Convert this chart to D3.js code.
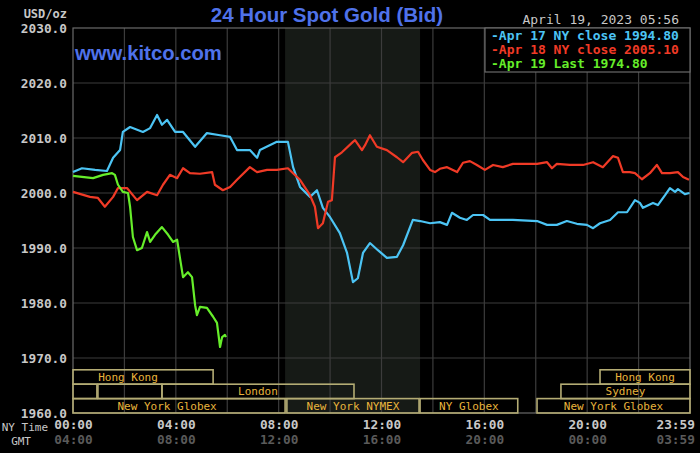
<!DOCTYPE html>
<html>
<head>
<meta charset="utf-8">
<script src="https://cdn.jsdelivr.net/npm/d3@7"></script>
<style>
  body { margin: 0; background: #000; }
  text { font-family: "DejaVu Sans Mono", monospace; }
</style>
</head>
<body>
<svg id="chart" width="700" height="453"></svg>
<script>
// hours since NY midnight, price
const apr17 = [[0,2003.8],[0.35,2004.5],[0.86,2004.2],[1.32,2004.0],[1.56,2006.4],[1.83,2007.8],[1.94,2011.1],
  [2.22,2012.0],[2.72,2011.1],[3.0,2011.8],[3.27,2014.2],[3.46,2012.4],[3.66,2013.3],[3.97,2011.1],[4.28,2011.1],
  [4.75,2008.4],[5.21,2010.9],[5.72,2010.5],[6.11,2010.2],[6.38,2007.8],[6.88,2007.8],[7.16,2006.4],[7.27,2007.8],
  [7.93,2009.3],[8.36,2009.3],[8.56,2004.7],[8.83,2001.1],[9.22,1999.3],[9.49,2000.5],[9.72,1997.3],[10.0,1995.6],
  [10.38,1992.7],[10.66,1989.1],[10.89,1983.8],[11.08,1984.5],[11.28,1989.1],[11.55,1990.9],[11.86,1989.6],
  [12.21,1988.2],[12.6,1988.4],[12.84,1990.5],[13.22,1995.1],[13.5,1994.9],[13.89,1994.5],[14.27,1994.7],
  [14.55,1994.2],[14.74,1996.4],[15.05,1995.5],[15.32,1995.1],[15.56,1996.0],[15.95,1996.0],[16.22,1995.1],
  [16.61,1995.1],[17.11,1995.1],[18.05,1994.9],[18.44,1994.2],[18.82,1994.2],[19.21,1994.9],[19.6,1994.4],
  [19.99,1994.2],[20.23,1993.6],[20.5,1994.5],[20.89,1995.1],[21.2,1996.5],[21.55,1996.5],[21.86,1998.7],
  [22.05,1998.2],[22.17,1997.3],[22.56,1998.2],[22.75,1997.8],[23.03,1999.6],[23.22,2000.9],[23.42,2000.2],
  [23.53,2000.7],[23.8,1999.8],[23.98,2000.0]];

const apr18 = [[0,2000.2],[0.66,1999.3],[0.97,1999.1],[1.24,1997.5],[1.56,1999.3],[1.75,2000.9],[2.1,2000.9],
  [2.49,1998.7],[2.88,2000.2],[3.27,1999.6],[3.5,2001.5],[3.77,2003.3],[4.05,2002.7],[4.28,2004.5],[4.55,2003.6],
  [4.94,2003.5],[5.41,2003.8],[5.52,2001.5],[5.83,2000.5],[6.11,2001.1],[6.38,2002.4],[6.88,2004.7],[7.16,2003.8],
  [7.55,2004.2],[7.93,2004.2],[8.36,2004.5],[8.56,2003.6],[8.83,2002.4],[9.22,1999.6],[9.41,1997.5],[9.53,1993.6],
  [9.72,1994.5],[9.92,1998.4],[10.07,1998.7],[10.19,2006.5],[10.46,2007.4],[10.89,2009.3],[10.97,2009.6],
  [11.24,2007.8],[11.36,2008.7],[11.55,2010.5],[11.82,2008.4],[12.21,2007.8],[12.6,2006.5],[12.84,2005.6],
  [13.19,2007.3],[13.42,2007.5],[13.61,2006.0],[13.89,2004.2],[14.08,2003.8],[14.27,2004.4],[14.55,2004.7],
  [14.94,2003.8],[15.17,2005.5],[15.44,2005.8],[15.71,2005.1],[16.02,2004.2],[16.34,2005.1],[16.72,2004.7],
  [17.11,2005.3],[18.05,2005.3],[18.44,2005.6],[18.63,2004.5],[18.82,2005.3],[19.33,2005.1],[19.84,2005.1],
  [20.23,2005.6],[20.61,2004.7],[21.0,2006.7],[21.2,2006.4],[21.39,2003.8],[21.66,2003.8],[21.86,2003.6],
  [22.13,2002.5],[22.44,2003.6],[22.71,2005.1],[22.91,2003.6],[23.22,2003.6],[23.53,2003.8],[23.73,2002.9],
  [23.96,2002.4]];

const apr19 = [[0,2003.1],[0.78,2002.7],[1.17,2003.3],[1.52,2003.6],[1.63,2003.3],[1.75,2001.5],[1.94,2000.2],
  [2.14,2000.0],[2.22,1997.5],[2.33,1992.0],[2.49,1989.6],[2.68,1990.0],[2.88,1992.9],[3.0,1991.1],[3.19,1992.4],
  [3.46,1993.8],[3.7,1992.4],[3.89,1991.1],[4.05,1991.5],[4.16,1988.2],[4.28,1984.7],[4.47,1985.6],[4.63,1984.7],
  [4.75,1979.6],[4.82,1977.8],[4.94,1979.3],[5.21,1979.1],[5.45,1977.5],[5.6,1976.4],[5.72,1972.0],[5.8,1973.8],
  [5.91,1974.2],[5.95,1973.8]];

const legendLines = ["Apr 17 NY close 1994.80", "Apr 18 NY close 2005.10", "Apr 19 Last 1974.80"];
const yTicks = [1960, 1970, 1980, 1990, 2000, 2010, 2020, 2030];
const xTickHours = [0, 4, 8, 12, 16, 20, 23.98];
const nyLabels = ["00:00", "04:00", "08:00", "12:00", "16:00", "20:00", "23:59"];
const gmtLabels = ["04:00", "08:00", "12:00", "16:00", "20:00", "00:00", "03:59"];
// trading sessions: row, start hour, end hour, label
const sessions = [
  [0, -1.17, 5.45, "Hong Kong"], [0, 20.5, 24, "Hong Kong"],
  [1, 0, 0.93, ""], [1, 0.97, 3.46, ""], [1, 3.46, 10.93, "London"], [1, 18.98, 24, "Sydney"],
  [2, -0.93, 8.25, "New York Globex"], [2, 8.32, 13.46, "New York NYMEX"],
  [2, 13.5, 17.3, "NY Globex"], [2, 18.05, 24, "New York Globex"]
];
const nymexHours = [8.25, 13.5];

const svg = d3.select("#chart");
const pLeft = 73, pRight = 690, pTop = 28, pBottom = 413;

svg.append("rect").attr("width", 700).attr("height", 453).attr("fill", "#000");

const x = d3.scaleLinear().domain([0, 24]).range([pLeft, pRight]);
const y = d3.scaleLinear().domain([1960, 2030]).range([pBottom, pTop]);

// shaded NYMEX hours
svg.append("rect")
  .attr("x", x(nymexHours[0])).attr("y", pTop)
  .attr("width", x(nymexHours[1]) - x(nymexHours[0])).attr("height", pBottom - pTop)
  .attr("fill", "#161a16");

// gridlines
const grid = svg.append("g").attr("stroke", "#3c3c3c").attr("stroke-width", 1.2);
grid.selectAll("line.h").data(yTicks.slice(1, -1)).enter().append("line")
  .attr("x1", pLeft).attr("x2", pRight)
  .attr("y1", d => y(d)).attr("y2", d => y(d));
grid.selectAll("line.v").data(d3.range(2, 24, 2)).enter().append("line")
  .attr("x1", d => x(d)).attr("x2", d => x(d))
  .attr("y1", pTop).attr("y2", pBottom);

// plot border
svg.append("rect").attr("x", pLeft).attr("y", pTop)
  .attr("width", pRight - pLeft).attr("height", pBottom - pTop)
  .attr("fill", "none").attr("stroke", "#6a6a6a").attr("stroke-width", 1.2);

// session boxes
const rowH = 14.4, rowTop = pBottom - 3 * rowH;
const sess = svg.append("g");
sessions.forEach(s => {
  const x0 = x(Math.max(0, s[1])), x1 = x(Math.min(24, s[2]));
  const yy = rowTop + s[0] * rowH;
  sess.append("rect").attr("x", x0).attr("y", yy).attr("width", x1 - x0).attr("height", rowH)
    .attr("fill", "none").attr("stroke", "#b4ac74").attr("stroke-width", 1.6);
  if (s[3]) {
    sess.append("text").attr("x", x((s[1] + Math.min(24, s[2])) / 2)).attr("y", yy + rowH / 2 + 4)
      .attr("text-anchor", "middle").attr("font-size", 11).attr("fill", "#e8b43c").text(s[3]);
  }
});

// price lines
const line = d3.line().x(d => x(d[0])).y(d => y(d[1]));
const series = [[apr17, "#4cc4f4"], [apr18, "#f03a26"], [apr19, "#66ee2a"]];
series.forEach(s => {
  svg.append("path").datum(s[0]).attr("d", line)
    .attr("fill", "none").attr("stroke", s[1]).attr("stroke-width", 2.2)
    .attr("stroke-linejoin", "round");
});

// legend
const lg = svg.append("g");
lg.append("rect").attr("x", 485).attr("y", pTop).attr("width", pRight - 485).attr("height", 44)
  .attr("fill", "#000").attr("stroke", "#6a6a6a").attr("stroke-width", 1.2);
legendLines.forEach((t, i) => {
  lg.append("text").attr("x", 491).attr("y", 40 + i * 14)
    .attr("font-size", 13).attr("font-weight", "bold").attr("fill", series[i][1])
    .text("-" + t);
});

// y axis
const yAxis = svg.append("g").attr("transform", `translate(${pLeft},0)`)
  .call(d3.axisLeft(y).tickValues(yTicks).tickFormat(d3.format(".1f")).tickSize(0).tickPadding(6));
yAxis.select(".domain").remove();
yAxis.selectAll("text").attr("font-family", "DejaVu Sans Mono").attr("font-size", 12.8)
  .attr("font-weight", "bold").attr("fill", "#c8c8c8");

// x axes
const nyAxis = svg.append("g").attr("transform", "translate(0,423)")
  .call(d3.axisBottom(x).tickValues(xTickHours).tickFormat((d, i) => nyLabels[i]).tickSize(0).tickPadding(0));
const gmtAxis = svg.append("g").attr("transform", "translate(0,438)")
  .call(d3.axisBottom(x).tickValues(xTickHours).tickFormat((d, i) => gmtLabels[i]).tickSize(0).tickPadding(0));
[nyAxis, gmtAxis].forEach((a, k) => {
  a.select(".domain").remove();
  a.selectAll("text").attr("font-family", "DejaVu Sans Mono").attr("font-size", 12.8)
    .attr("font-weight", "bold").attr("fill", k ? "#5a5a5a" : "#c8c8c8")
    .attr("dy", "0.5em")
    .attr("text-anchor", (d, i) => i === xTickHours.length - 1 ? "end" : "middle")
    .attr("dx", (d, i) => i === xTickHours.length - 1 ? 5 : 0);
});

svg.append("text").attr("x", 48).attr("y", 431).attr("text-anchor", "end")
  .attr("font-size", 11).attr("fill", "#c8c8c8").text("NY Time");
svg.append("text").attr("x", 31).attr("y", 445).attr("text-anchor", "end")
  .attr("font-size", 11).attr("fill", "#c8c8c8").text("GMT");

// titles
svg.append("text").attr("x", 67).attr("y", 18).attr("text-anchor", "end")
  .attr("font-size", 12).attr("font-weight", "bold").attr("fill", "#c8c8c8").text("USD/oz");
svg.append("text").attr("x", 327).attr("y", 22).attr("text-anchor", "middle")
  .style("font-family", "'Liberation Sans', Arial, sans-serif").attr("font-size", 20.5)
  .attr("font-weight", "bold").attr("fill", "#4f72ea").text("24 Hour Spot Gold (Bid)");
svg.append("text").attr("x", 75).attr("y", 60)
  .style("font-family", "'Liberation Sans', Arial, sans-serif").attr("font-size", 20.3)
  .attr("font-weight", "bold").attr("fill", "#4f72ea").text("www.kitco.com");
svg.append("text").attr("x", 679).attr("y", 24).attr("text-anchor", "end")
  .attr("font-size", 13).attr("fill", "#c8c8c8").text("April 19, 2023 05:56");
</script>
</body>
</html>
